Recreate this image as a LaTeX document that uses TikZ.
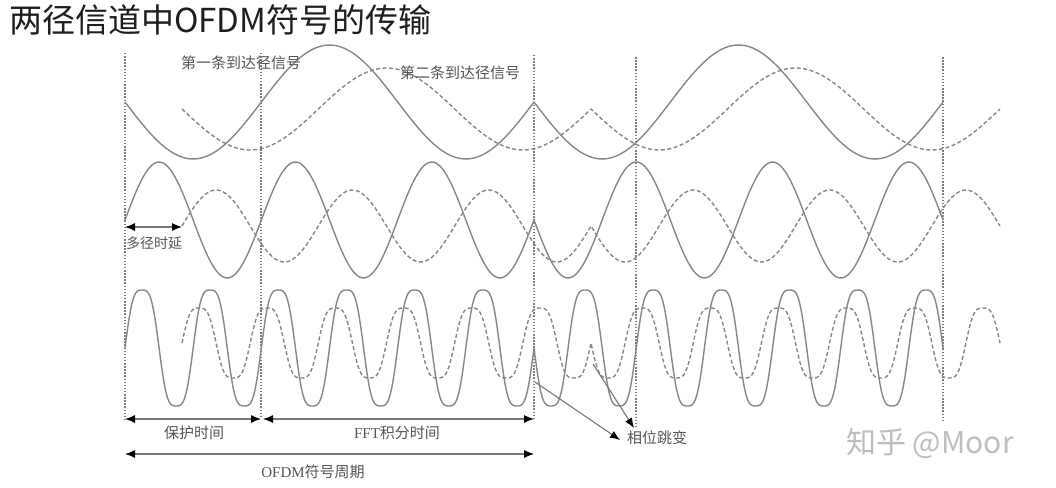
\documentclass[tikz,border=0pt]{standalone}
\usepackage{fontspec}
\setmainfont{Liberation Serif}
\newfontfamily\cjk{Noto Sans CJK SC}
\usetikzlibrary{arrows.meta}
\definecolor{curvegray}{RGB}{135,135,135}
\definecolor{vgray}{RGB}{125,125,125}
\definecolor{dimgray}{RGB}{120,120,120}
\definecolor{labgray}{RGB}{85,85,85}
\definecolor{titlegray}{RGB}{30,30,30}
\definecolor{wmgray}{RGB}{190,190,190}
\tikzset{
  sig/.style={draw=curvegray, line width=1.4pt, line join=round},
  sigd/.style={sig, dash pattern=on 4pt off 2.5pt},
  vline/.style={draw=vgray, line width=1.2pt, dash pattern=on 1.5pt off 1.6pt},
  tip/.tip={Latex[length=10pt,width=8pt,color=black]},
  dimarrow/.style={draw=dimgray, line width=1.2pt, tip-tip},
  ptr/.style={draw=dimgray, line width=1.1pt, -tip},
  lab/.style={text=labgray, inner sep=0pt, font=\fontsize{15pt}{17pt}\selectfont\cjk},
}
\begin{document}
\begin{tikzpicture}[x=1pt,y=-1pt,
  declare function={sq(\t)=(sin(\t)+0.1*sin(3*\t))/0.9;}]
\useasboundingbox[fill=white] (0,0) rectangle (1056,487);

% title
\node[anchor=west, inner sep=0pt, text=titlegray, font=\fontsize{33pt}{36pt}\selectfont\cjk] (title) at (9,20) {两径信道中OFDM符号的传输};

% vertical dotted lines
\foreach \vx/\vt/\vb [count=\i] in {125/53/420, 261/53/418, 534/55/420, 636/57/427, 943/57/422}{
  \coordinate (vt\i) at (\vx,\vt);
  \coordinate (vb\i) at (\vx,\vb);
  \draw[vline] (vt\i) -- (vb\i);
}

% first path (solid)
\draw[sig] plot[domain=0:409, samples=100] ({\x+125},{102+57*sin(\x*1.3201)})
  -- plot[domain=0:409, samples=100] ({\x+534},{102+57*sin(\x*1.3201)});
\draw[sig] plot[domain=0:409, samples=160] ({\x+125},{220-58*sin(\x*2.6406)})
  -- plot[domain=0:409, samples=160] ({\x+534},{220+58*sin(\x*2.6406)});
\draw[sig] plot[domain=0:409, samples=300] ({\x+125},{348-58*sq(\x*5.2812)})
  -- plot[domain=0:409, samples=300] ({\x+534},{348+58*sq(\x*5.2812)});

% second path (dashed, delayed)
\draw[sigd] plot[domain=0:409, samples=100] ({\x+182},{109+41*sin(\x*1.3201)})
  -- plot[domain=0:409, samples=100] ({\x+591},{109+41*sin(\x*1.3201)});
\draw[sigd] plot[domain=0:409, samples=160] ({\x+182},{226-36*sin(\x*2.6406)})
  -- plot[domain=0:409, samples=160] ({\x+591},{226+36*sin(\x*2.6406)});
\draw[sigd] plot[domain=0:409, samples=300] ({\x+182},{343-35*sq(\x*5.2812)})
  -- plot[domain=0:409, samples=300] ({\x+591},{343+35*sq(\x*5.2812)});

% path labels
\node[lab] (l1) at (241,63) {第一条到达径信号};
\node[lab] (l2) at (460,73) {第二条到达径信号};

% multipath delay
\coordinate (d1) at (125,227);
\coordinate (d2) at (182,227);
\draw[dimarrow] (d1) -- (d2);
\node[lab, font=\fontsize{14pt}{16pt}\selectfont\cjk] (ldelay) at (154,243) {多径时延};

% time spans
\coordinate (g1) at (125,419);
\coordinate (g2) at (261,419);
\coordinate (f1) at (263,419);
\coordinate (f2) at (534,419);
\coordinate (p1) at (125,454);
\coordinate (p2) at (534,454);
\draw[dimarrow] (g1) -- (g2);
\draw[dimarrow] (f1) -- (f2);
\draw[dimarrow] (p1) -- (p2);
\node[lab] (lguard) at (194,433) {保护时间};
\node[lab] (lfft) at (397,433) {{\rmfamily FFT}积分时间};
\node[lab] (lper) at (313,472) {{\rmfamily OFDM}符号周期};

% phase jump
\coordinate (j1) at (535,382);
\coordinate (j2) at (593,364);
\node[lab, anchor=west] (ljump) at (627,438) {相位跳变};
\coordinate (t1) at (620,440);
\coordinate (t2) at (634,428);
\draw[ptr] (j1) -- (t1);
\draw[ptr] (j2) -- (t2);

% watermark
\node[anchor=west, inner sep=0pt, text=wmgray, font=\fontsize{30pt}{32pt}\selectfont\cjk] (wm) at (846,443) {知乎 @Moor};
\end{tikzpicture}
\end{document}
